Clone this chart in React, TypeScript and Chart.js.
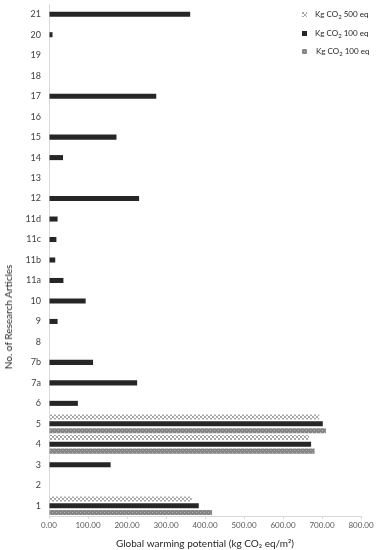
import React, { useEffect, useRef } from "react";
import { Chart, registerables } from "chart.js";

Chart.register(...registerables);

const categories = ["1", "2", "3", "4", "5", "6", "7a", "7b", "8", "9", "10", "11a", "11b", "11c", "11d", "12", "13", "14", "15", "16", "17", "18", "19", "20", "21"];
const kg500eq = [366, null, null, 667, 693, null, null, null, null, null, null, null, null, null, null, null, null, null, null, null, null, null, null, null, null];
const kg100eq = [384, null, 158, 672, 702, 74, 226, 113, null, 22, 94, 37, 16, 19, 22, 231, null, 36, 173, null, 275, null, null, 9, 362];
const kg100eqB = [418, null, null, 681, 710, null, null, null, null, null, null, null, null, null, null, null, null, null, null, null, null, null, null, null, null];
const xTicks = [0, 100, 200, 300, 400, 500, 600, 700, 800];
const legendLabels = ["500 eq", "100 eq", "100 eq"];

const FONT = "Lato, 'Open Sans', 'DejaVu Sans', sans-serif";

function makePattern(bg: string, fg: string, kind: "checker" | "dots"): CanvasPattern | string {
  const c = document.createElement("canvas");
  c.width = 4;
  c.height = 4;
  const ctx = c.getContext("2d");
  if (!ctx) return bg;
  ctx.fillStyle = bg;
  ctx.fillRect(0, 0, 4, 4);
  ctx.fillStyle = fg;
  if (kind === "checker") {
    ctx.fillRect(0, 0, 2, 2);
    ctx.fillRect(2, 2, 2, 2);
  } else {
    ctx.fillRect(0, 0, 1, 1);
    ctx.fillRect(2, 2, 1, 1);
  }
  const p = ctx.createPattern(c, "repeat");
  return p || bg;
}

export default function App() {
  const ref = useRef<HTMLCanvasElement | null>(null);
  const l0 = useRef<HTMLCanvasElement | null>(null);
  const l2 = useRef<HTMLCanvasElement | null>(null);

  useEffect(() => {
    if (!ref.current) return;
    const checker = makePattern("#ffffff", "#a8a8a8", "checker");
    const dots = makePattern("#858585", "#b3b3b3", "dots");
    [l0.current, l2.current].forEach((cv, i) => {
      if (!cv) return;
      const ctx = cv.getContext("2d");
      if (!ctx) return;
      ctx.fillStyle = (i === 0 ? checker : dots) as any;
      ctx.fillRect(0, 0, cv.width, cv.height);
    });
    const chart = new Chart(ref.current, {
      type: "bar",
      data: {
        labels: categories,
        datasets: [
          { label: "Kg CO₂ 500 eq", data: kg500eq, backgroundColor: checker as any, borderWidth: 0 },
          { label: "Kg CO₂ 100 eq", data: kg100eq, backgroundColor: "#262626", borderWidth: 0 },
          { label: "Kg CO₂ 100 eq ", data: kg100eqB, backgroundColor: dots as any, borderWidth: 0 },
        ],
      },
      options: {
        indexAxis: "y",
        animation: false,
        responsive: false,
        maintainAspectRatio: false,
        datasets: { bar: { categoryPercentage: 1.0, barPercentage: 0.74, skipNull: false } },
        layout: { padding: { top: 4, right: 15, left: 0, bottom: 0 } },
        plugins: { legend: { display: false }, tooltip: { enabled: false } },
        scales: {
          x: {
            min: 0,
            max: 800,
            afterBuildTicks: (s: any) => {
              s.ticks = xTicks.map((v) => ({ value: v }));
            },
            afterFit: (s: any) => {
              s.height = 34;
              s.paddingLeft = 0;
              s.paddingRight = 0;
            },
            ticks: {
              callback: (v: any) => Number(v).toFixed(2),
              font: { family: FONT, size: 8 },
              color: "#595959",
              padding: 2,
              maxRotation: 0,
            },
            grid: { display: true, drawOnChartArea: false, drawTicks: true, tickLength: 3, color: "#d9d9d9" },
            border: { display: true, color: "#d9d9d9" },
            title: {
              display: true,
              text: "Global warming potential (kg CO₂ eq/m²)",
              font: { family: FONT, size: 10 },
              color: "#262626",
              padding: { top: 2, bottom: 0 },
            },
          },
          y: {
            reverse: true,
            afterFit: (s: any) => {
              s.width = 49;
              s.paddingTop = 0;
              s.paddingBottom = 0;
            },
            ticks: {
              font: { family: FONT, size: 9 },
              color: "#404040",
              padding: 8,
              autoSkip: false,
            },
            grid: { display: true, drawOnChartArea: false, drawTicks: false, color: "#d9d9d9" },
            border: { display: true, color: "#d9d9d9" },
            title: { display: false },
          },
        },
      },
    });
    return () => chart.destroy();
  }, []);

  const itemStyle: React.CSSProperties = {
    position: "absolute",
    left: 0,
    display: "flex",
    alignItems: "center",
    whiteSpace: "nowrap",
  };
  const textStyle: React.CSSProperties = {
    fontFamily: FONT,
    fontSize: 8,
    color: "#262626",
    marginLeft: 8,
    lineHeight: "10px",
  };
  const sub: React.CSSProperties = { fontSize: 6, verticalAlign: "-2px", lineHeight: 0 };

  return (
    <div style={{ position: "absolute", left: 0, top: 0, width: 376, height: 550, background: "#fff" }}>
      <canvas ref={ref} width={376} height={550} style={{ width: 376, height: 550, display: "block" }} />
      <div
        style={{
          position: "absolute",
          left: 8,
          top: 317,
          transform: "translate(-50%, -50%) rotate(-90deg)",
          fontFamily: FONT,
          fontSize: 10,
          color: "#262626",
          whiteSpace: "nowrap",
          lineHeight: "12px",
        }}
      >
        No. of Research Articles
      </div>
      <div style={{ position: "absolute", left: 302, top: 9, width: 74, height: 50 }}>
        <div style={{ ...itemStyle, top: 0 }}>
          <canvas ref={l0} width={5} height={5} style={{ width: 5, height: 5 }} />
          <span style={textStyle}>
            Kg CO<span style={sub}>2</span> {legendLabels[0]}
          </span>
        </div>
        <div style={{ ...itemStyle, top: 19 }}>
          <div style={{ width: 5, height: 5, background: "#262626" }} />
          <span style={textStyle}>
            Kg CO<span style={sub}>2</span> {legendLabels[1]}
          </span>
        </div>
        <div style={{ ...itemStyle, top: 37 }}>
          <canvas ref={l2} width={5} height={5} style={{ width: 5, height: 5 }} />
          <span style={{ ...textStyle, marginLeft: 9 }}>
            Kg CO<span style={sub}>2</span> {legendLabels[2]}
          </span>
        </div>
      </div>
    </div>
  );
}
